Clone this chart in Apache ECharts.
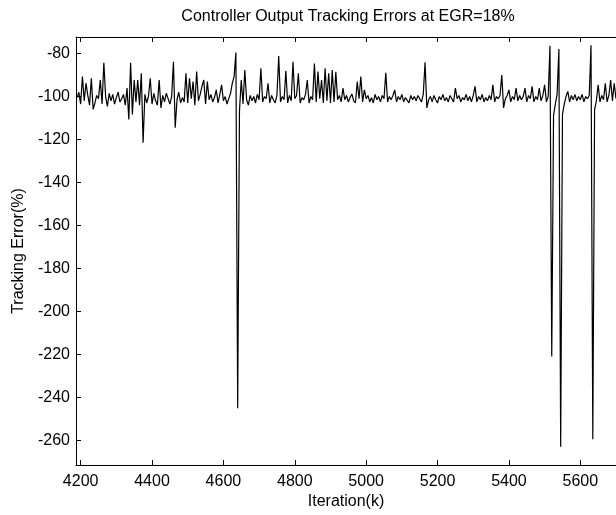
<!DOCTYPE html>
<html><head><meta charset="utf-8">
<script src="https://cdn.jsdelivr.net/npm/echarts@6/dist/echarts.min.js"></script>
<style>html,body{margin:0;padding:0;background:#fff}#c{width:616px;height:515px}</style>
</head><body><div id="c"></div>
<script>
const titleText = 'Controller Output Tracking Errors at EGR=18%';
const xName = 'Iteration(k)';
const yName = 'Tracking Error(%)';
const xRange = [4187, 5700];
const yRange = [-271.5, -72.3];
const iterStart = 4190;
const iterStep = 5;
// tracking error sampled every 5 iterations from 4190 to 5700
const trackingError = [
 -100.5, -98, -103.5, -90.7, -102, -93.8, -99.5, -104, -91.5, -106,
 -103, -99.5, -101, -92.3, -103.5, -84.3, -100, -104.6, -98.5, -102,
 -99, -103.5, -100.5, -98, -102.5, -101, -99, -104, -96.1, -110.7,
 -84.3, -108.4, -92.3, -102.5, -92.3, -104, -89.2, -121.5, -99, -103,
 -100, -91.5, -103.5, -98.5, -102, -104, -92.3, -105.3, -99.5, -102.5,
 -98.5, -101, -103.5, -100, -83.8, -114.5, -101.5, -98, -103, -100.5,
 -102.5, -89.2, -103, -91.5, -101, -93, -104, -88.4, -102, -99,
 -95.3, -92.3, -103.5, -93, -101.5, -99, -102.5, -100.5, -96.9, -103,
 -99, -94.6, -102, -100, -103.5, -101, -98.5, -93.8, -90.7, -79.5,
 -245, -106.9, -92.3, -103.5, -87.7, -101.5, -104, -99.5, -102, -100,
 -103, -99, -101.5, -86.9, -102.5, -100, -101, -93.8, -103, -99.5,
 -101.5, -103, -99.5, -81.2, -102.5, -100, -101.5, -88, -103, -99.5,
 -102, -83.8, -101, -99.5, -89.2, -103, -100.5, -101.5, -99, -92.3,
 -103, -100, -101.5, -84.6, -102.5, -88.4, -101, -92.3, -103, -86.9,
 -102, -89.2, -103, -87.7, -102.5, -88.5, -101.5, -99.5, -102.5, -96.1,
 -101.5, -99.5, -102.5, -100.5, -98.8, -102, -103, -93, -101, -90.7,
 -102.5, -96.9, -101, -99.5, -102.5, -100.5, -103, -99, -101.5, -100,
 -102.5, -99.5, -101, -88.9, -102.5, -100, -101.5, -99.5, -96.9, -102.5,
 -100, -101.5, -99, -102.5, -100.5, -101, -103, -99.5, -101.5, -100,
 -102, -99.5, -101, -102.5, -99, -84.1, -105.3, -101.5, -100, -102.5,
 -99.5, -101.5, -103, -100, -101.5, -99, -102, -100.5, -102.5, -99.5,
 -101, -102.5, -96.1, -101, -99.5, -102.5, -100.5, -101.5, -99, -102,
 -100, -102.5, -99.5, -95.3, -102.5, -100, -101.5, -99, -102.5, -100.5,
 -102, -99.5, -101.5, -94.6, -102.5, -100, -101, -99.5, -90, -105.3,
 -101, -99.5, -96.9, -102.5, -100, -101.5, -96.1, -102, -99.5, -101.5,
 -100, -96.1, -102.5, -99.5, -101, -95.3, -102.5, -100, -101.5, -96.1,
 -102, -99.5, -94.6, -102.5, -100, -76.4, -221, -108.8, -103.5, -99,
 -77.9, -263, -108.4, -103.5, -100, -97.6, -102.5, -99.5, -101.5, -99,
 -102, -100, -101.5, -99, -102.5, -100, -101, -99.5, -76.1, -259.5,
 -106.1, -102, -94.6, -102.5, -99.5, -101.5, -93.8, -102.5, -99.5, -92.3,
 -102, -93.8, -101
];

const FONT = '"Liberation Sans", Arial, Helvetica, sans-serif';
const FS = 16;
const seriesData = trackingError.map((v, i) => [iterStart + i * iterStep, v]);

const axisCommon = {
  axisLine: { show: true, lineStyle: { color: '#000', width: 1 } },
  axisTick: { show: true, inside: true, length: 5, lineStyle: { color: '#000', width: 1 } },
  splitLine: { show: false }
};
const plain = v => String(v);

const chart = echarts.init(document.getElementById('c'), null, { renderer: 'canvas' });
chart.setOption({
  animation: false,
  backgroundColor: '#fff',
  grid: { left: 76, top: 37, width: 541, height: 434, containLabel: false },
  graphic: [{
    type: 'text', x: 348, y: 17,
    style: { text: titleText, font: FS + 'px ' + FONT, fill: '#000', textAlign: 'center', textVerticalAlign: 'middle' }
  }],
  xAxis: [
    Object.assign({}, axisCommon, {
      type: 'value', min: xRange[0], max: xRange[1], splitNumber: 8, position: 'bottom',
      name: xName, nameLocation: 'middle', nameGap: 25,
      nameTextStyle: { color: '#000', fontSize: FS, fontFamily: FONT },
      axisLabel: { color: '#000', fontSize: FS, fontFamily: FONT, margin: 8, showMinLabel: false, showMaxLabel: false, formatter: plain }
    }),
    Object.assign({}, axisCommon, {
      type: 'value', min: xRange[0], max: xRange[1], splitNumber: 8, position: 'top',
      axisLabel: { show: false }
    })
  ],
  yAxis: [
    Object.assign({}, axisCommon, {
      type: 'value', min: yRange[0], max: yRange[1], splitNumber: 10, position: 'left',
      name: yName, nameLocation: 'middle', nameGap: 48, nameRotate: 90,
      nameTextStyle: { color: '#000', fontSize: FS, fontFamily: FONT },
      axisLabel: { color: '#000', fontSize: FS, fontFamily: FONT, margin: 6, showMinLabel: false, showMaxLabel: false, formatter: plain }
    })
  ],
  series: [{
    type: 'line', data: seriesData, xAxisIndex: 0, yAxisIndex: 0,
    showSymbol: false, symbol: 'none', sampling: null,
    lineStyle: { color: '#000', width: 1.2 }
  }]
});
</script>
</body></html>
